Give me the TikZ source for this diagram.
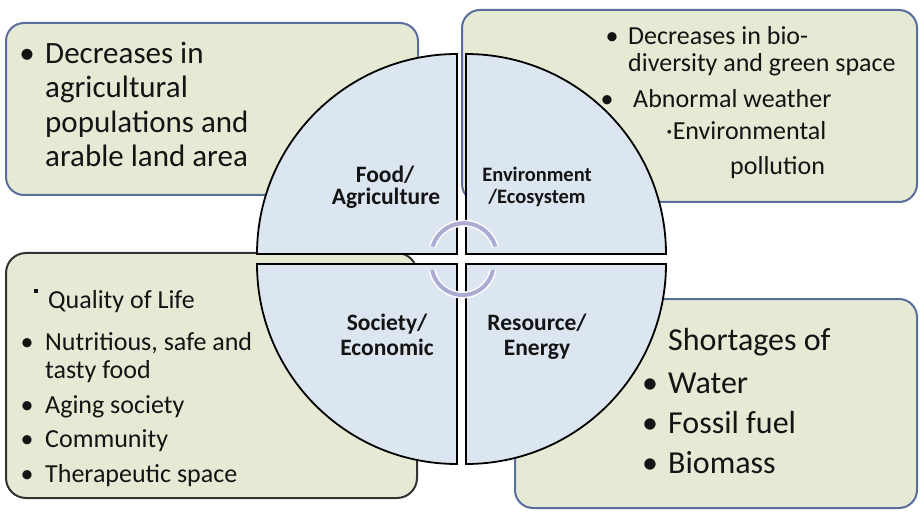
\documentclass[tikz,border=0pt]{standalone}
\usepackage{fontspec}
\setmainfont{Carlito}
\definecolor{boxfill}{HTML}{E6EAD5}
\definecolor{boxblue}{HTML}{5A6D9C}
\definecolor{boxdark}{HTML}{333333}
\definecolor{qfill}{HTML}{DCE6F0}
\definecolor{arcc}{HTML}{ABABD3}
\definecolor{ink}{HTML}{141414}
\begin{document}
\begin{tikzpicture}[x=1pt,y=-1pt,
  box/.style={draw=boxblue, line width=2pt, fill=boxfill, rounded corners=18pt, inner sep=0pt},
  quarter/.style={draw=black, line width=1.8pt, fill=qfill, line join=miter},
  txt/.style={anchor=base west, inner sep=0pt, text=ink},
  bul/.style={anchor=base, inner sep=0pt, text=ink},
  lab/.style={anchor=base, inner sep=0pt, text=ink, font=\bfseries\fontsize{23.5}{25}\selectfont},
  swirl/.style={draw=white, line width=1.5pt, double=arcc, double distance=4pt}
]
\useasboundingbox (0,0) rectangle (924,513);
% boxes
\node[box, minimum width=412pt, minimum height=172pt] (tlbox) at (212,109) {};
\node[box, minimum width=455pt, minimum height=192pt] (trbox) at (689.5,106) {};
\node[box, draw=boxdark, minimum width=411pt, minimum height=245pt, rounded corners=20pt] (blbox) at (211.5,375.5) {};
\node[box, minimum width=402pt, minimum height=209pt] (brbox) at (716,403.5) {};
% quarters
\draw[quarter] (457,254) -- (257,254) arc[start angle=180, end angle=270, radius=200] -- cycle;
\draw[quarter] (466,254) -- (466,54) arc[start angle=270, end angle=360, radius=200] -- cycle;
\draw[quarter] (457,264) -- (257,264) arc[start angle=180, end angle=90, radius=200] -- cycle;
\draw[quarter] (466,264) -- (666,264) arc[start angle=0, end angle=90, radius=200] -- cycle;
% swirl arcs
\coordinate (c1) at (464,256);
\coordinate (c2) at (462.5,264);
\draw[swirl] (c1) ++(197:32.8) arc[start angle=197, end angle=343, radius=32.8];
\draw[swirl] (c2) ++(11:31) arc[start angle=11, end angle=169, radius=31];
% quarter labels
\node[lab] (food1) at (385,183) {Food/};
\node[lab] (food2) at (386,205) {Agriculture};
\node[lab, font=\bfseries\fontsize{20.5}{22}\selectfont] (env1) at (537,182) {Environment};
\node[lab, font=\bfseries\fontsize{20.5}{22}\selectfont] (env2) at (537,204) {/Ecosystem};
\node[lab] (soc1) at (387,330) {Society/};
\node[lab] (soc2) at (387,355) {Economic};
\node[lab] (res1) at (537,330) {Resource/};
\node[lab] (res2) at (537,355) {Energy};
% top-left text
\begin{scope}[every node/.append style={font=\fontsize{31}{34}\selectfont}]
\node[bul] (tlb) at (27,64) {•};
\node[txt] (tl1) at (45,64) {Decreases in};
\node[txt] (tl2) at (45,98) {agricultural};
\node[txt] (tl3) at (45,133) {populations and};
\node[txt] (tl4) at (45,167) {arable land area};
\end{scope}
% top-right text
\begin{scope}[every node/.append style={font=\fontsize{26}{28}\selectfont}]
\node[bul] (trb1) at (612,45) {•};
\node[txt] (tr1) at (628,45) {Decreases in bio-};
\node[txt] (tr2) at (628,72) {diversity and green space};
\node[bul] (trb2) at (607,108) {•};
\node[txt] (tr3) at (633,108) {Abnormal weather};
\node[txt] (tr4) at (666,140) {·Environmental};
\node[txt] (tr5) at (730,175) {pollution};
\end{scope}
% bottom-right text
\begin{scope}[every node/.append style={font=\fontsize{32}{36}\selectfont}]
\node[txt] (br0) at (668,350) {Shortages of};
\node[bul] (brb1) at (650,393) {•};
\node[txt] (br1) at (668,393) {Water};
\node[bul] (brb2) at (650,433) {•};
\node[txt] (br2) at (668,433) {Fossil fuel};
\node[bul] (brb3) at (650,473) {•};
\node[txt] (br3) at (668,473) {Biomass};
\end{scope}
% bottom-left text
\begin{scope}[every node/.append style={font=\fontsize{26}{28}\selectfont}]
\node[fill=ink, inner sep=0pt, minimum size=4pt] (blsq) at (36,291) {};
\node[txt] (bl0) at (48,308) {Quality of Life};
\node[bul] (blb1) at (27,350) {•};
\node[txt] (bl1) at (45,350) {Nutritious, safe and};
\node[txt] (bl2) at (45,378) {tasty food};
\node[bul] (blb2) at (27,413) {•};
\node[txt] (bl3) at (45,413) {Aging society};
\node[bul] (blb3) at (27,447) {•};
\node[txt] (bl4) at (45,447) {Community};
\node[bul] (blb4) at (27,482) {•};
\node[txt] (bl5) at (45,482) {Therapeutic space};
\end{scope}
\end{tikzpicture}
\end{document}
